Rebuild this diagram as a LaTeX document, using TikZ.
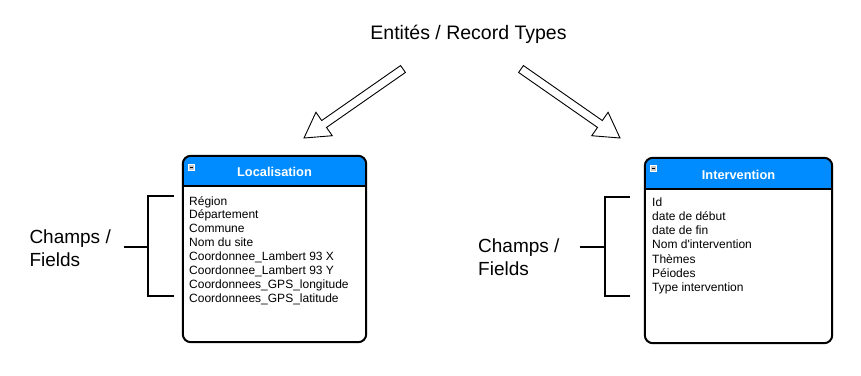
\documentclass[tikz,border=0pt]{standalone}
\usepackage{fontspec}
\setmainfont{Liberation Sans}
\usetikzlibrary{calc}
\definecolor{hdrblue}{RGB}{0,140,255}
\newcommand\myblockarrow[2]{%
  \path ($(#2)!24.5pt!(#1)$) coordinate (hb);
  \draw[blockarrow] ($(#1)!4.2pt!90:(#2)$) -- ($(hb)!4.2pt!90:(#2)$) -- ($(hb)!14.3pt!90:(#2)$) -- (#2) -- ($(hb)!14.3pt!-90:(#2)$) -- ($(hb)!4.2pt!-90:(#2)$) -- ($(#1)!4.2pt!-90:(#2)$) -- cycle;}
\begin{document}
\begin{tikzpicture}[x=1pt,y=-1pt,
  boxline/.style={line width=2pt, rounded corners=8pt},
  brk/.style={line width=2pt},
  fieldtxt/.style={anchor=base west, inner sep=0pt, font=\fontsize{12}{14}\selectfont},
  bigtxt/.style={anchor=base west, inner sep=0pt, font=\fontsize{19}{23}\selectfont},
  hdrtxt/.style={text=white, inner sep=0pt, font=\bfseries\fontsize{12.8}{15}\selectfont},
  blockarrow/.style={draw=black, line width=0.9pt, fill=white, line join=miter},
  entbox/.style={draw=none, inner sep=0pt},
  icon/.style={fill=gray!45, draw=white, line width=0.6pt},
]
\useasboundingbox (0,0) rectangle (861,375);

% title
\node[inner sep=0pt, font=\fontsize{19.5}{23}\selectfont] (title) at (468.5,34) {Entités / Record Types};

% ---------- Localisation box
\node[entbox, minimum width=183pt, minimum height=186pt] (loc) at (274.5,249) {};
\fill[hdrblue] ([yshift=-30pt]loc.north west) [rounded corners=8pt] -- (loc.north west) -- (loc.north east) [sharp corners] -- ([yshift=-30pt]loc.north east) -- cycle;
\draw[boxline] (loc.north west) rectangle (loc.south east);
\draw[line width=2pt] ([yshift=-30pt]loc.north west) -- ([yshift=-30pt]loc.north east);
\node[hdrtxt] (locT) at (274.5,172) {Localisation};
\path[icon] (188,164) rectangle (194,170);
\draw[line width=0.8pt] (189.5,167) -- (192.5,167);

\foreach \t [count=\i from 0] in {Région,Département,Commune,Nom du site,Coordonnee\_Lambert 93 X,Coordonnee\_Lambert 93 Y,Coordonnees\_GPS\_longitude,Coordonnees\_GPS\_latitude}
  \node[fieldtxt] (lf\i) at (189,205+13.9*\i) {\t};

% ---------- Intervention box
\node[entbox, minimum width=187pt, minimum height=185pt] (int) at (738.5,250.5) {};
\fill[hdrblue] ([yshift=-31pt]int.north west) [rounded corners=8pt] -- (int.north west) -- (int.north east) [sharp corners] -- ([yshift=-31pt]int.north east) -- cycle;
\draw[boxline] (int.north west) rectangle (int.south east);
\draw[line width=2pt] ([yshift=-31pt]int.north west) -- ([yshift=-31pt]int.north east);
\node[hdrtxt] (intT) at (738.5,175) {Intervention};
\path[icon] (650,165) rectangle (656,171);
\draw[line width=0.8pt] (651.5,168) -- (654.5,168);

\foreach \t [count=\i from 0] in {Id,date de début,date de fin,Nom d\textquotesingle intervention,Thèmes,Péiodes,Type intervention}
  \node[fieldtxt] (rf\i) at (652,206.5+14.15*\i) {\t};

% ---------- block arrows
\coordinate (aLt) at (403,69);
\coordinate (aLh) at (304,138);
\coordinate (aRt) at (521,69);
\coordinate (aRh) at (620,138);
\myblockarrow{aLt}{aLh}
\myblockarrow{aRt}{aRh}

% ---------- brackets and labels
\node[bigtxt] (chL1) at (29.3,243.3) {Champs /};
\node[bigtxt] (chL2) at (29.3,266.7) {Fields};
\coordinate (bLt) at (148,196);
\coordinate (bLb) at (148,296);
\coordinate (bLm) at (148,247);
\coordinate (tL) at (124,247);
\draw[brk] (174,196) -- (bLt) -- (bLb) -- (174,296);
\draw[brk] (tL) -- (bLm);

\node[bigtxt] (chR1) at (478,252.3) {Champs /};
\node[bigtxt] (chR2) at (478,275.5) {Fields};
\coordinate (bRt) at (605,197);
\coordinate (bRb) at (605,296);
\coordinate (bRm) at (605,247);
\coordinate (tR) at (580,247);
\draw[brk] (630,197) -- (bRt) -- (bRb) -- (630,296);
\draw[brk] (tR) -- (bRm);
\end{tikzpicture}
\end{document}
